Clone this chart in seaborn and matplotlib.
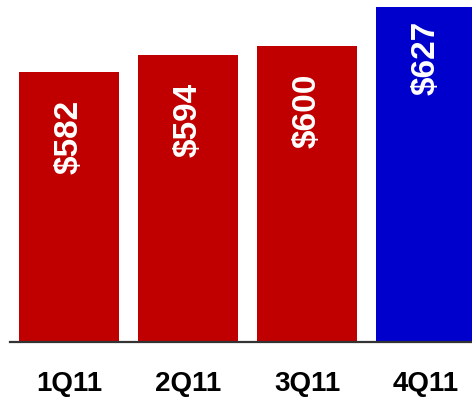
import matplotlib
matplotlib.use("Agg")
import matplotlib.pyplot as plt
import seaborn as sns
import pandas as pd

quarters = ["1Q11", "2Q11", "3Q11", "4Q11"]
values = [582, 594, 600, 627]
labels = ["$582", "$594", "$600", "$627"]
bar_colors = ["#C00000", "#C00000", "#C00000", "#0000CC"]

sns.set_theme(style="white")
plt.rcParams['font.family'] = ['Liberation Sans', 'DejaVu Sans']

df = pd.DataFrame({"quarter": quarters, "value": values})

fig = plt.figure(figsize=(4.72, 3.99), dpi=100)
ax = fig.add_axes([10/472, 57/399, 1 - 10/472, 1 - 57/399])

sns.barplot(data=df, x="quarter", y="value", hue="quarter",
            palette=dict(zip(quarters, bar_colors)), width=0.84,
            saturation=1, linewidth=0, legend=False, ax=ax)

ax.set_ylim(395, 632)
ax.set_xlim(-0.496, 3.387)
ax.set_xlabel("")
ax.set_ylabel("")
ax.set_yticks([])
for s in ["top", "left", "right"]:
    ax.spines[s].set_visible(False)
ax.spines["bottom"].set_color("#333333")
ax.spines["bottom"].set_linewidth(1.6)
ax.tick_params(axis="x", length=0, pad=21)
for t in ax.get_xticklabels():
    t.set_fontweight("bold")
    t.set_fontsize(20)
    t.set_color("black")

for i, (v, lab) in enumerate(zip(values, labels)):
    off = -10 if i == len(values) - 1 else -20
    ax.annotate(lab, xy=(i, v), xytext=(0, off), textcoords="offset points",
                ha="center", va="top", rotation=90, color="white",
                fontsize=24, fontweight="bold")

fig.savefig("out.png", dpi=100)
